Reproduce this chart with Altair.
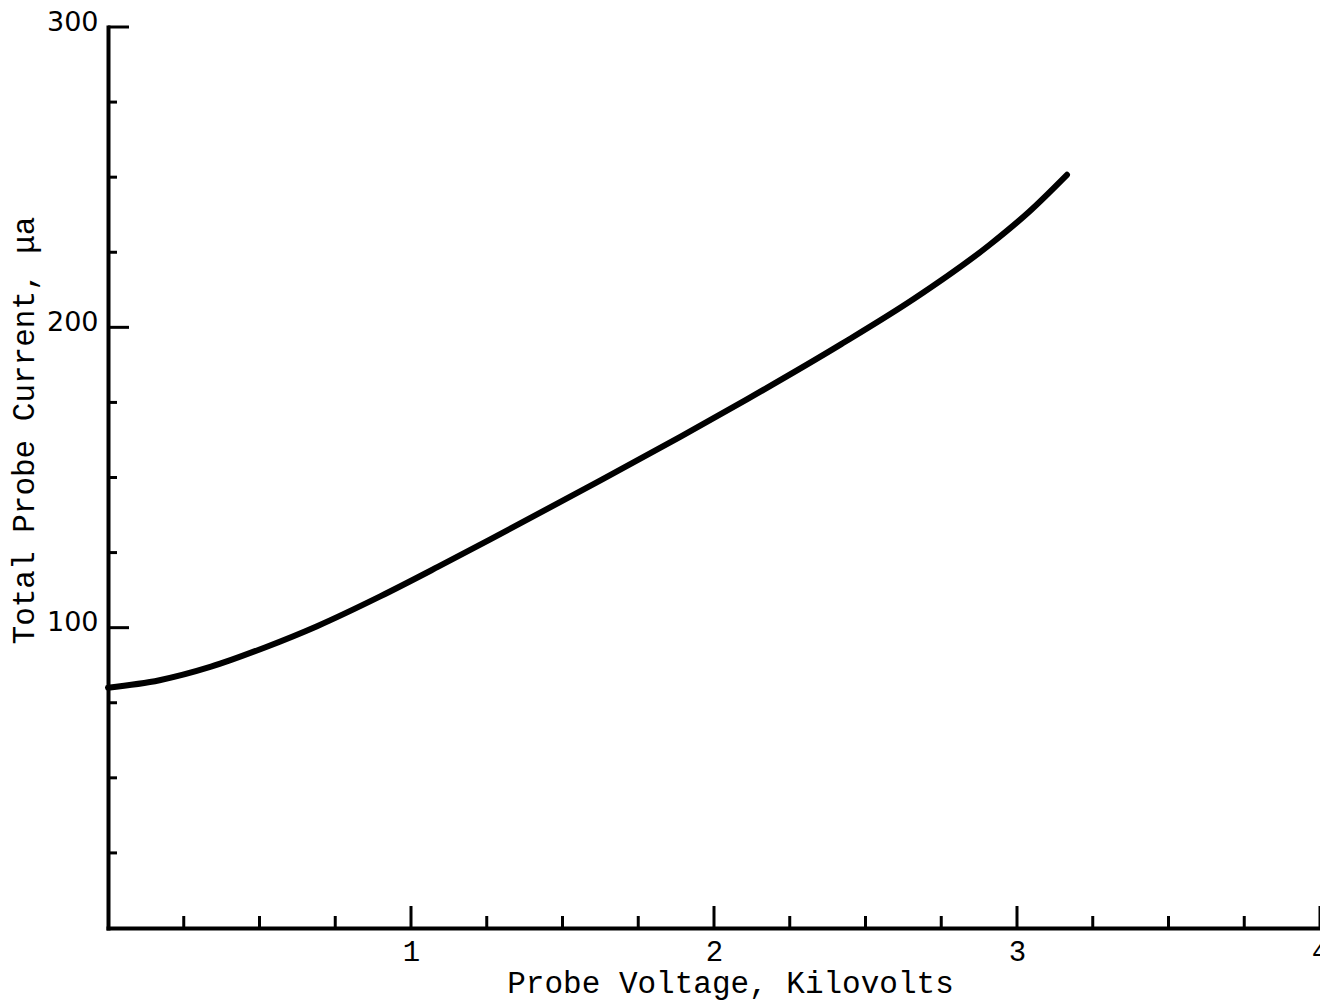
import altair as alt
import pandas as pd

# Curve
voltage = [0.0, 0.17, 0.34, 0.52, 0.69, 0.90, 1.09, 1.26, 1.61, 1.89, 2.11, 2.42, 2.66, 2.91, 3.04, 3.165]
current = [80.0, 82.5, 87.0, 93.5, 100.5, 110.5, 120.3, 129.3, 148.2, 163.6, 176.1, 194.4, 209.5, 227.5, 238.5, 250.8]

# Axis ticks
y_major = [100, 200, 300]
y_minor = [25, 50, 75, 125, 150, 175, 225, 250, 275]
x_major = [1, 2, 3, 4]
x_minor = [0.25, 0.5, 0.75, 1.25, 1.5, 1.75, 2.25, 2.5, 2.75, 3.25, 3.5, 3.75]

W, H = 1212, 901
MONO = "Liberation Mono"

xs = alt.Scale(domain=[0, 4], nice=False, zero=False)
ys = alt.Scale(domain=[0, 300], nice=False, zero=False)

x_axis = alt.Axis(
    values=x_major, format="d", ticks=False, tickSize=0, grid=False,
    domain=True, domainColor="black", domainWidth=4, domainCap="square",
    labelFont=MONO, labelFontSize=29, labelColor="black", labelPadding=9,
    labelBaseline="top", labelFlush=False, labelOverlap=False,
    title="Probe Voltage, Kilovolts", titleFont=MONO, titleFontSize=31,
    titleFontWeight="normal", titleColor="black",
    titleX=622, titleY=64, titleBaseline="alphabetic", titleAlign="center",
)
y_axis = alt.Axis(
    values=y_major, format="d", ticks=False, tickSize=0, grid=False,
    domain=True, domainColor="black", domainWidth=4, domainCap="square",
    labelFont="DejaVu Sans", labelFontSize=27, labelColor="black", labelPadding=10,
    labelBaseline="middle", labelOffset=-5, labelFlush=False, labelOverlap=False,
    title="Total Probe Current, \u03bca", titleFont=MONO, titleFontSize=31,
    titleFontWeight="normal", titleColor="black", titleAngle=270,
    titleX=-84, titleY=403, titleBaseline="middle", titleAlign="center",
)

curve = pd.DataFrame({"v": voltage, "c": current})

line = alt.Chart(curve).mark_line(
    color="black", strokeWidth=6, strokeCap="round", strokeJoin="round", interpolate="monotone"
).encode(
    x=alt.X("v:Q", scale=xs, axis=x_axis),
    y=alt.Y("c:Q", scale=ys, axis=y_axis),
)

def yticks(vals, length):
    return alt.Chart(pd.DataFrame({"c": vals})).mark_rule(color="black", strokeWidth=3).encode(
        y=alt.Y("c:Q", scale=ys, axis=y_axis),
        x=alt.value(0), x2=alt.value(length),
    )

def xticks(vals, length):
    return alt.Chart(pd.DataFrame({"v": vals})).mark_rule(color="black", strokeWidth=3).encode(
        x=alt.X("v:Q", scale=xs, axis=x_axis),
        y=alt.value(H), y2=alt.value(H - length),
    )

chart = alt.layer(
    line,
    yticks(y_major, 21), yticks(y_minor, 9),
    xticks(x_major, 22), xticks(x_minor, 12),
).properties(
    width=W, height=H,
    autosize="none",
    padding={"left": 108, "top": 27, "right": 0, "bottom": 79},
    background="white",
).configure_view(stroke=None)

chart.save("out.html", embed_options={"renderer": "svg", "actions": False})
